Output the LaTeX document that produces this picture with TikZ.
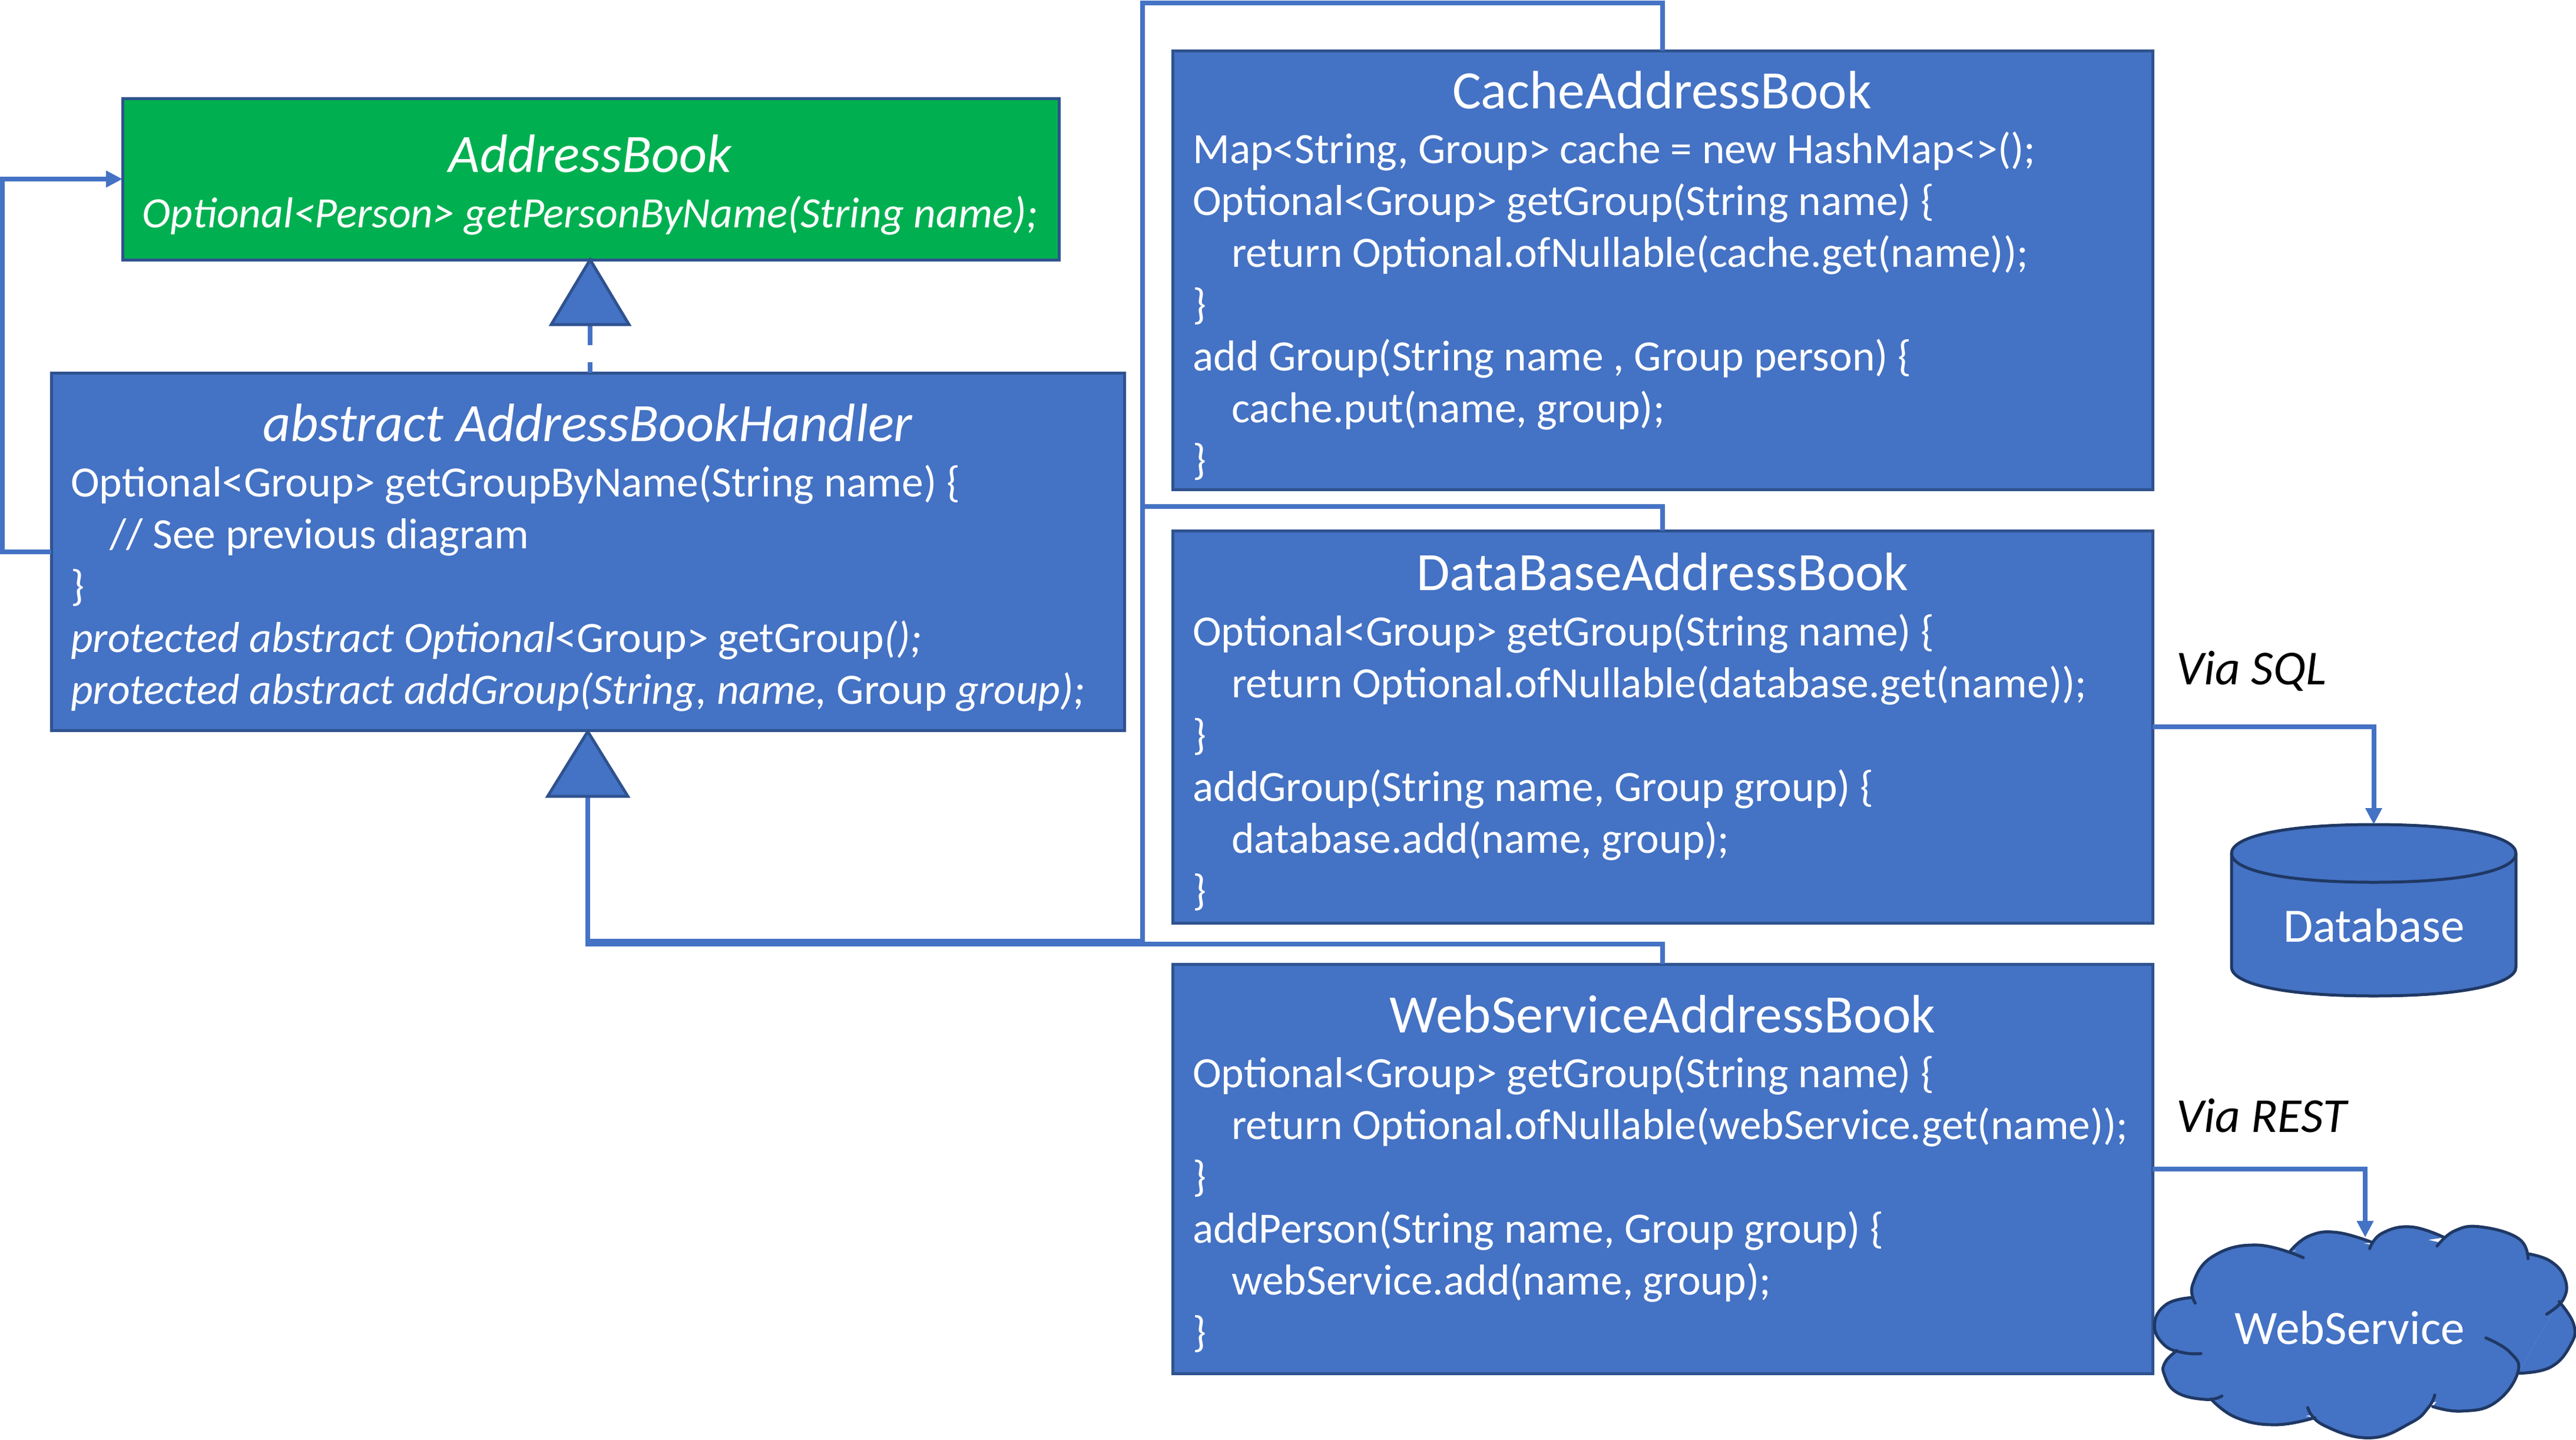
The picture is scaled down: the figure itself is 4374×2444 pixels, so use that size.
\documentclass[tikz,border=0pt]{standalone}
\usepackage{fontspec}
\setmainfont{Carlito}
\usetikzlibrary{arrows.meta,calc}
\definecolor{cblue}{HTML}{4472C4}
\definecolor{cedge}{HTML}{2F528F}
\definecolor{cgreen}{HTML}{00B050}
\definecolor{cnavy}{HTML}{1F3864}
\tikzset{
  box/.style={draw=cedge,line width=5pt,fill=cblue,inner sep=0pt,outer sep=0pt,anchor=north west},
  titletext/.style={text=white,inner sep=0pt,anchor=base,font=\fontsize{91.8}{100}\selectfont},
  bodytext/.style={text=white,inner sep=0pt,anchor=north west,align=left,font=\fontsize{73.5}{88}\selectfont},
  vialabel/.style={text=black,inner sep=0pt,anchor=base west,font=\fontsize{83}{88}\selectfont\itshape},
  shapetext/.style={text=white,inner sep=0pt,font=\fontsize{81.5}{88}\selectfont},
  conn/.style={draw=cblue,line width=8pt},
  connarrow/.style={conn,-{Triangle[length=28pt,width=27pt]}},
  triangleshape/.style={draw=cedge,line width=5pt,fill=cblue,line join=miter},
  cloudedge/.style={draw=cnavy,line width=5pt,smooth,tension=0.75,line cap=round},
  cloudfill/.style={fill=cblue,smooth,tension=0.75},
}
\newcommand{\ind}{\hspace*{66pt}}
\begin{document}
\begin{tikzpicture}[x=1pt,y=-1pt]
\useasboundingbox (0,0) rectangle (4374,2444);
% boxes
\node[box,fill=cgreen,minimum width=1590pt,minimum height=274pt] (ab) at (208,167) {};
\node[box,minimum width=1822pt,minimum height=607pt] (handler) at (87,633) {};
\node[box,minimum width=1664pt,minimum height=745pt] (cache) at (1991,86) {};
\node[box,minimum width=1664pt,minimum height=666pt] (db) at (1991,901) {};
\node[box,minimum width=1664pt,minimum height=695pt] (web) at (1991,1637) {};
% coordinates
\coordinate (toptrunk) at (1940,4.5);
\coordinate (midtrunk) at (1940,860);
\coordinate (lowtrunk) at (1940,1598);
\coordinate (webrun) at (1000,1603);
\coordinate (tribase) at (998,1352);
\coordinate (tritip) at (998,1242);
\coordinate (abbase) at (1002,551);
\coordinate (abtip) at (1002,441);
\coordinate (leftrail) at (4,936);
\coordinate (cloudin) at (4016,2101);
% connectors to handler
\draw[conn,line join=miter] (cache.north) |- (toptrunk) -- (lowtrunk) -| (tribase);
\draw[conn] (db.north) |- (midtrunk);
\draw[conn] (web.north) |- (webrun) -| (tribase);
% triangles
\draw[triangleshape] (tritip) -- ($(tribase)+(-68,0)$) -- ($(tribase)+(68,0)$) -- cycle;
\draw[draw=cblue,line width=8pt,dash pattern=on 35pt off 29pt on 20pt] (abbase) -- (handler.north-|abtip);
\draw[triangleshape] (abtip) -- ($(abbase)+(-66,0)$) -- ($(abbase)+(66,0)$) -- cycle;
% dependency arrow
\draw[connarrow] (handler.west) -- (handler.west-|leftrail) |- (ab.west);
% texts
\node[titletext] (abtitle) at (1002,292) {\itshape AddressBook};
\node[titletext,font=\fontsize{73.5}{88}\selectfont] (abbody) at (1002,386) {\itshape Optional<Person> getPersonByName(String name);};
\node[titletext] (htitle) at (998,749) {\itshape abstract AddressBookHandler};
\node[bodytext] (hbody) at (120,790) {Optional<Group> getGroupByName(String name) \{\\
\ind // See previous diagram\\
\}\\
{\itshape protected abstract Optional}<Group> getGroup{\itshape ();}\\
{\itshape protected abstract addGroup(String, name,} Group {\itshape group);}};
\node[titletext] (ctitle) at (2822,184) {CacheAddressBook};
\node[bodytext] (cbody) at (2025,224) {Map<String, Group> cache = new HashMap<>();\\
Optional<Group> getGroup(String name) \{\\
\ind return Optional.ofNullable(cache.get(name));\\
\}\\
add Group(String name , Group person) \{\\
\ind cache.put(name, group);\\
\}};
\node[titletext] (dtitle) at (2823,1002) {DataBaseAddressBook};
\node[bodytext] (dbody) at (2025,1043) {Optional<Group> getGroup(String name) \{\\
\ind return Optional.ofNullable(database.get(name));\\
\}\\
addGroup(String name, Group group) \{\\
\ind database.add(name, group);\\
\}};
\node[titletext] (wtitle) at (2823,1753) {WebServiceAddressBook};
\node[bodytext] (wbody) at (2025,1793) {Optional<Group> getGroup(String name) \{\\
\ind return Optional.ofNullable(webService.get(name));\\
\}\\
addPerson(String name, Group group) \{\\
\ind webService.add(name, group);\\
\}};
\node[vialabel] (viasql) at (3695,1162) {Via SQL};
\node[vialabel] (viarest) at (3695,1922) {Via REST};
% database cylinder
\node[inner sep=0pt,outer sep=0pt,minimum width=483pt,minimum height=291pt] (database) at (4030.5,1545.5) {};
\path[draw=cnavy,fill=cblue,line width=5pt]
  ($(database.north west)+(0,49)$)
  .. controls ($(database.north west)+(0,22)$) and ($(database.north)+(-160,0)$) .. (database.north)
  .. controls ($(database.north)+(160,0)$) and ($(database.north east)+(0,22)$) .. ($(database.north east)+(0,49)$)
  -- ($(database.south east)+(0,-49)$)
  .. controls ($(database.south east)+(0,-22)$) and ($(database.south)+(160,0)$) .. (database.south)
  .. controls ($(database.south)+(-160,0)$) and ($(database.south west)+(0,-22)$) .. ($(database.south west)+(0,-49)$)
  -- cycle;
\path[draw=cnavy,line width=5pt]
  ($(database.north west)+(0,49)$)
  .. controls ($(database.north west)+(0,76)$) and ($(database.north)+(-160,98)$) .. ($(database.north)+(0,98)$)
  .. controls ($(database.north)+(160,98)$) and ($(database.north east)+(0,76)$) .. ($(database.north east)+(0,49)$);
\node[shapetext] (dblabel) at (4031,1571) {Database};
% database connector
\draw[connarrow] (db.east) -| (database.north);
% cloud
\begin{scope}[shift={(3600,1100)},x=0.4936pt,y=-0.8571pt]
\fill[cblue] (248,1287)--(195,1392)--(312,1488)--(500,1530)--(660,1520)--(860,1550)--(1078,1495)--(1368,1437)--(1510,1295)--(1400,1203)--(1250,1170)--(1100,1178)--(1000,1165)--(862,1182)--(730,1170)--(600,1195)--(450,1200)--cycle;
\fill[cloudfill] plot coordinates {(248,1287) (160,1300) (118,1340) (150,1380) (215,1396) (278,1398)};
\fill[cloudfill] plot coordinates {(195,1392) (155,1415) (152,1440) (195,1475) (295,1489) (350,1482)};
\fill[cloudfill] plot coordinates {(312,1488) (400,1525) (535,1539) (670,1525)};
\fill[cloudfill] plot coordinates {(645,1505) (700,1540) (860,1565) (1000,1535) (1060,1505) (1082,1480)};
\fill[cloudfill] plot coordinates {(1075,1503) (1175,1512) (1290,1495) (1368,1435) (1340,1395) (1258,1367)};
\fill[cloudfill] plot coordinates {(1368,1437) (1480,1425) (1550,1380) (1560,1340) (1510,1295)};
\fill[cloudfill] plot coordinates {(1467,1320) (1525,1290) (1530,1250) (1480,1215) (1400,1200)};
\fill[cloudfill] plot coordinates {(1403,1210) (1370,1170) (1240,1147) (1150,1155) (1090,1185)};
\fill[cloudfill] plot coordinates {(1115,1168) (1000,1147) (900,1160) (858,1190)};
\fill[cloudfill] plot coordinates {(868,1178) (745,1158) (650,1165) (585,1195)};
\fill[cloudfill] plot coordinates {(630,1208) (470,1183) (320,1205) (250,1260) (258,1298)};
\draw[cloudedge] plot coordinates {(248,1287) (160,1300) (118,1340) (150,1380) (215,1396) (278,1398)};
\draw[cloudedge] plot coordinates {(195,1392) (155,1415) (152,1440) (195,1475) (295,1489) (350,1482)};
\draw[cloudedge] plot coordinates {(312,1488) (400,1525) (535,1539) (670,1525)};
\draw[cloudedge] plot coordinates {(645,1505) (700,1540) (860,1565) (1000,1535) (1060,1505) (1082,1480)};
\draw[cloudedge] plot coordinates {(1075,1503) (1175,1512) (1290,1495) (1368,1435) (1340,1395) (1258,1367)};
\draw[cloudedge] plot coordinates {(1368,1437) (1480,1425) (1550,1380) (1560,1340) (1510,1295)};
\draw[cloudedge] plot coordinates {(1467,1320) (1525,1290) (1530,1250) (1480,1215) (1400,1200)};
\draw[cloudedge] plot coordinates {(1403,1210) (1370,1170) (1240,1147) (1150,1155) (1090,1185)};
\draw[cloudedge] plot coordinates {(1115,1168) (1000,1147) (900,1160) (858,1190)};
\draw[cloudedge] plot coordinates {(868,1178) (745,1158) (650,1165) (585,1195)};
\draw[cloudedge] plot coordinates {(630,1208) (470,1183) (320,1205) (250,1260) (258,1298)};
\end{scope}
\node[shapetext] (weblabel) at (3990,2254) {WebService};
% webservice connector
\draw[connarrow] (web.east) -| (cloudin);
\end{tikzpicture}
\end{document}
